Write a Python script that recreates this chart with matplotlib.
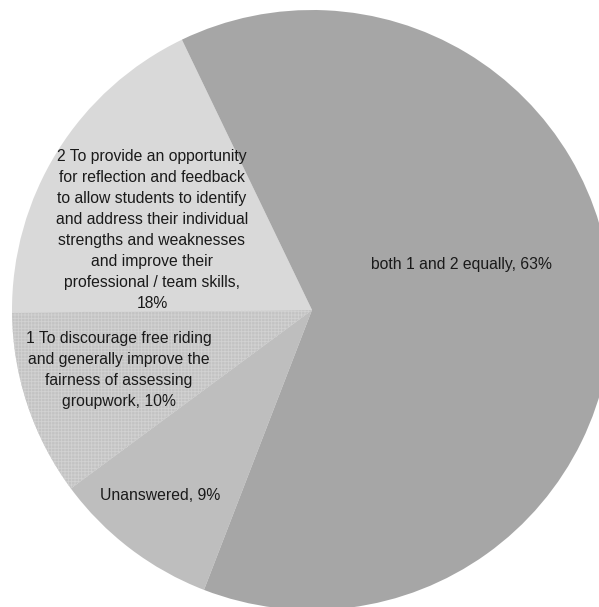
import matplotlib.pyplot as plt

plt.rcParams['font.family'] = ['Liberation Sans', 'DejaVu Sans']
plt.rcParams['hatch.linewidth'] = 0.6

# survey answers, in drawing order (counter-clockwise)
categories = [
    '2 To provide an opportunity\nfor reflection and feedback\nto allow students to identify\nand address their individual\nstrengths and weaknesses\nand improve their\nprofessional / team skills',
    '1 To discourage free riding\nand generally improve the\nfairness of assessing\ngroupwork',
    'Unanswered',
    'both 1 and 2 equally',
]
shares = [18, 10, 9, 63]
separators = [',\n', ', ', ', ', ', ']

colors = ['#d9d9d9', '#c3c3c3', '#bebebe', '#a6a6a6']
label_pos = [(152, 230), (119, 370), (160, 495), (461, 264)]  # pixel centres

W, H = 599, 607
cx, cy, r = 312, 310, 300

fig = plt.figure(figsize=(W / 100, H / 100), dpi=100)
ax = fig.add_axes([(cx - r) / W, (H - cy - r) / H, 2 * r / W, 2 * r / H])

wedges, _ = ax.pie(shares, colors=colors, startangle=115.7, counterclock=True,
                   radius=1, wedgeprops=dict(linewidth=0))

# fine grid texture on the "discourage free riding" slice
wedges[1].set_hatch('+++++')
wedges[1].set_edgecolor('#d2d2d2')
wedges[1].set_linewidth(0)

for cat, sep, val, (px, py) in zip(categories, separators, shares, label_pos):
    ax.text((px - cx) / r, (cy - py) / r, cat + sep + str(val) + '%',
            ha='center', va='center', fontsize=11.3, linespacing=1.5,
            color='#1a1a1a')

ax.set_xlim(-1, 1)
ax.set_ylim(-1, 1)
ax.axis('off')

fig.savefig('out.png', dpi=100)
